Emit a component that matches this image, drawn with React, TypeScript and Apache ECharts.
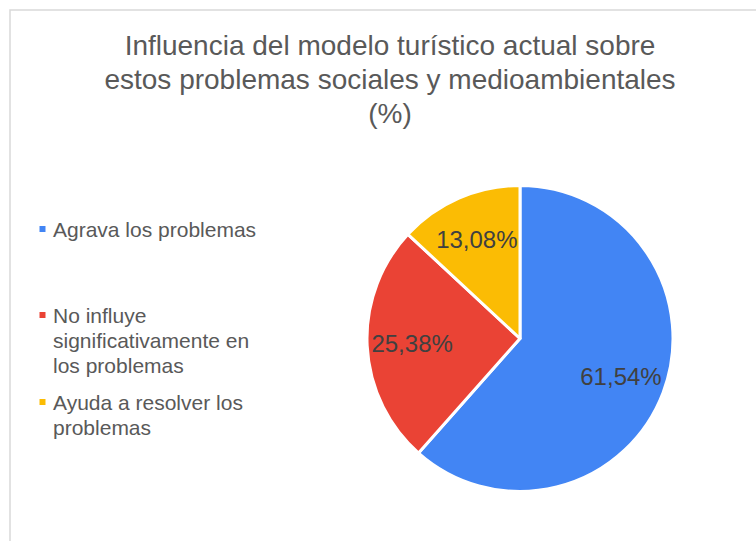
import React, { useEffect, useRef } from "react";
import * as echarts from "echarts";

const titleLines = [
  "Influencia del modelo turístico actual sobre",
  "estos problemas sociales y medioambientales",
  "(%)",
];
const categories = [
  "Agrava los problemas",
  "No influye\nsignificativamente en\nlos problemas",
  "Ayuda a resolver los\nproblemas",
];
const values = [61.54, 25.38, 13.08];
const colors = ["#4285F4", "#EA4335", "#FBBC04"];

export default function App() {
  const ref = useRef<HTMLDivElement>(null);
  useEffect(() => {
    if (!ref.current) return;
    const chart = echarts.init(ref.current, null, { renderer: "svg" });
    const data = categories.map((name, i) => ({
      name,
      value: values[i],
      itemStyle: { color: colors[i] },
    }));
    const fmt = (p: any) => Number(p.value).toFixed(2).replace(".", ",") + "%";
    const legendText = {
      fontFamily: "'Liberation Sans', Arial, sans-serif",
      fontSize: 21,
      lineHeight: 25,
      color: "#595959",
    };
    const icons = [
      "path://M0,0L6,0L6,6L0,6Z M8.5,0L8.5,0",
      "path://M0,0L6,0L6,6L0,6Z M8.5,56L8.5,56",
      "path://M0,0L6,0L6,6L0,6Z M8.5,31L8.5,31",
    ];
    const iconH = [6, 56, 31];
    const legendTops = [216.5, 302.5, 389.5];
    const legends = categories.map((name, i) => ({
      show: true,
      orient: "vertical",
      left: 39.5,
      top: legendTops[i],
      padding: 0,
      data: [{ name, icon: icons[i] }],
      itemWidth: 8.5,
      itemHeight: iconH[i],
      itemStyle: { borderWidth: 0 },
      textStyle: legendText,
      selectedMode: false,
    }));
    chart.setOption({
      animation: false,
      backgroundColor: "#ffffff",
      title: {
        text: titleLines.join("\n"),
        left: 390,
        top: 28,
        padding: 0,
        textAlign: "center",
        textStyle: {
          fontFamily: "'Liberation Sans', Arial, sans-serif",
          fontSize: 28,
          lineHeight: 34,
          fontWeight: "normal",
          color: "#595959",
        },
      },
      legend: legends,
      graphic: [
        {
          type: "rect",
          shape: { x: 10, y: 10, width: 800, height: 600 },
          style: { fill: "none", stroke: "#d9d9d9", lineWidth: 1.5 },
          silent: true,
          z: -10,
        },
      ],
      series: [
        {
          type: "pie",
          center: [520, 338.5],
          radius: [0, 153],
          startAngle: 90,
          clockwise: true,
          label: { show: false },
          labelLine: { show: false },
          itemStyle: { borderColor: "#ffffff", borderWidth: 3 },
          emphasis: { disabled: true },
          data,
        },
        {
          type: "pie",
          center: [520, 338.5],
          radius: [57, 153],
          startAngle: 90,
          clockwise: true,
          silent: true,
          legendHoverLink: false,
          itemStyle: { color: "transparent", borderWidth: 0 },
          label: {
            show: true,
            position: "inside",
            formatter: fmt,
            fontFamily: "'Liberation Sans', Arial, sans-serif",
            fontSize: 24,
            color: "#404040",
          },
          labelLine: { show: false },
          emphasis: { disabled: true },
          data: categories.map((name, i) => ({ name, value: values[i] })),
        },
      ],
    });
    return () => chart.dispose();
  }, []);
  return (
    <div
      ref={ref}
      style={{ position: "absolute", left: 0, top: 0, width: 756, height: 541 }}
    />
  );
}
